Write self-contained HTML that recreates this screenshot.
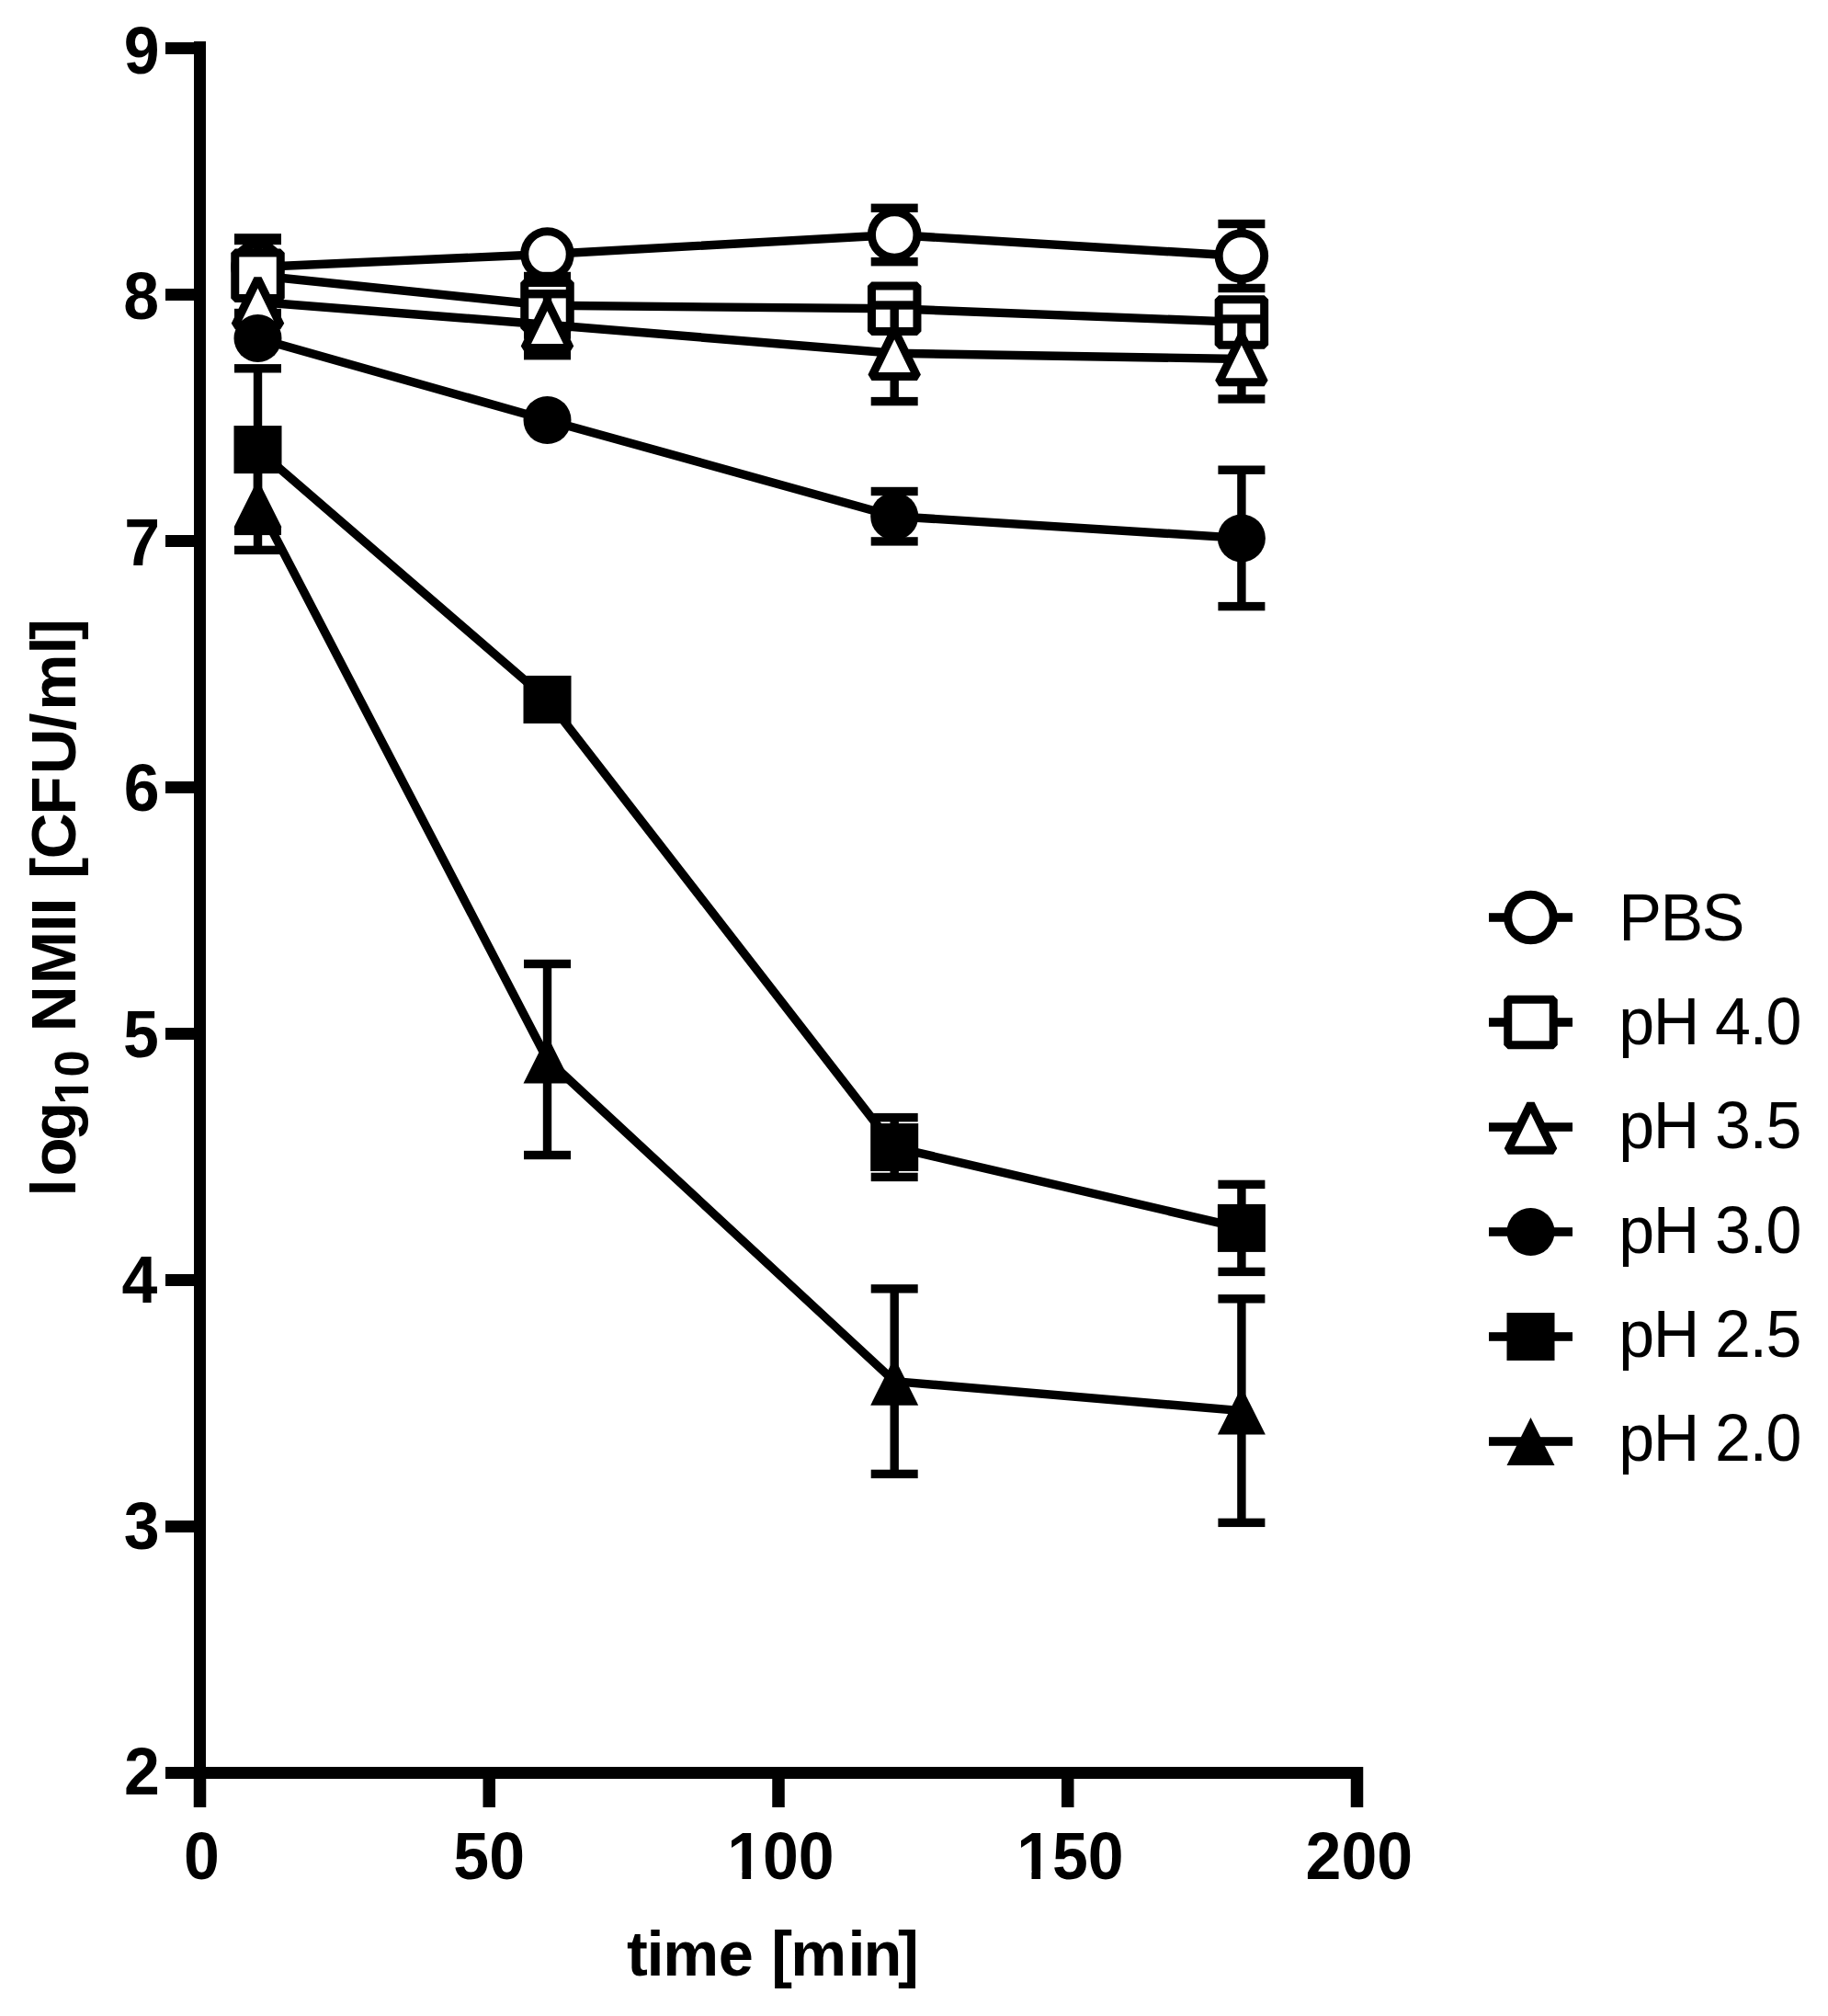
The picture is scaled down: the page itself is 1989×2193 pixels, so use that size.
<!DOCTYPE html><html><head><meta charset="utf-8"><title>log10 NMII [CFU/ml] vs time [min]</title><style>html,body{margin:0;padding:0;background:#fff;width:1989px;height:2193px;overflow:hidden}svg{display:block}</style></head><body>
<svg width="1989" height="2193" viewBox="0 0 1989 2193">
<rect width="1989" height="2193" fill="#fff"/>
<g fill="#000"><rect x="211" y="45" width="13" height="1890"/><rect x="211" y="1922" width="1272" height="13"/><rect x="180" y="46" width="44" height="13"/><rect x="180" y="314" width="44" height="13"/><rect x="180" y="582" width="44" height="13"/><rect x="180" y="850" width="44" height="13"/><rect x="180" y="1118" width="44" height="13"/><rect x="180" y="1386" width="44" height="13"/><rect x="180" y="1654" width="44" height="13"/><rect x="180" y="1922" width="44" height="13"/><rect x="210.75" y="1922" width="13.5" height="44"/><rect x="525.5" y="1922" width="13.5" height="44"/><rect x="840.25" y="1922" width="13.5" height="44"/><rect x="1155" y="1922" width="13.5" height="44"/><rect x="1469.75" y="1922" width="13.5" height="44"/></g>
<g font-family="Liberation Sans, Arial, sans-serif" font-weight="bold" font-size="72" fill="#000"><text transform="translate(134.75,79.5) scale(0.97,1)">9</text><text transform="translate(134.31,347) scale(0.97,1)">8</text><text transform="translate(135.23,614.5) scale(0.97,1)">7</text><text transform="translate(134.68,882) scale(0.97,1)">6</text><text transform="translate(134.1,1149.5) scale(0.97,1)">5</text><text transform="translate(132.53,1417) scale(0.97,1)">4</text><text transform="translate(134.68,1684.5) scale(0.97,1)">3</text><text transform="translate(134.95,1952) scale(0.97,1)">2</text><text transform="translate(200.03,2044.2) scale(0.97,1)">0</text><text transform="translate(493.37,2044.2) scale(0.97,1)">50</text><text transform="translate(791.21,2044.2) scale(0.97,1)">100</text><text transform="translate(1106.18,2044.2) scale(0.97,1)">150</text><text transform="translate(1420.56,2044.2) scale(0.97,1)">200</text></g>
<text x="682.09 703.47 721.36 781.78 819.88 839.14 860.36 922.52 939.44 977.1" y="2148.8" font-family="Liberation Sans, Arial, sans-serif" font-weight="bold" font-size="68.5">time [min]</text>
<g transform="translate(82,1300) rotate(-90)" font-family="Liberation Sans, Arial, sans-serif" font-weight="bold" font-size="69"><text y="0"><tspan x="-1.4 20.53 59.37">log</tspan><tspan x="98.56 128.46" y="13.5" font-size="52.6">10</tspan><tspan x="177.65 229.76 286.41 304.41 323.59" y="0">NMII </tspan><tspan x="344.2 365.66 413.63 457.72 505.26 527.19 588.45 604.08">[CFU/ml]</tspan></text><g fill="#fff"><rect x="99.87" y="6.63" width="10.96" height="8.37"/><rect x="118.05" y="6.63" width="10.3" height="8.37"/></g></g>
<g fill="#fff"><rect x="793.61" y="2035.35" width="13.9" height="10.35"/><rect x="817.09" y="2035.35" width="13.01" height="10.35"/><rect x="1108.58" y="2035.35" width="13.9" height="10.35"/><rect x="1132.07" y="2035.35" width="13.01" height="10.35"/></g>
<g fill="#000"><polyline points="280.5,290.5 595.5,276.5 973.2,255.5 1350.9,278.5" fill="none" stroke="#000" stroke-width="9.4" stroke-linejoin="round"/><rect x="275.8" y="261.5" width="9.4" height="58"/><rect x="255" y="256.8" width="51" height="9.4"/><rect x="255" y="314.8" width="51" height="9.4"/><rect x="968.5" y="226.3" width="9.4" height="58.4"/><rect x="947.7" y="221.6" width="51" height="9.4"/><rect x="947.7" y="280" width="51" height="9.4"/><rect x="1346.2" y="243.5" width="9.4" height="70"/><rect x="1325.4" y="238.8" width="51" height="9.4"/><rect x="1325.4" y="308.8" width="51" height="9.4"/><circle cx="280.5" cy="290.5" r="24.75" fill="#fff" stroke="#000" stroke-width="9"/><circle cx="595.5" cy="276.5" r="24.75" fill="#fff" stroke="#000" stroke-width="9"/><circle cx="973.2" cy="255.5" r="24.75" fill="#fff" stroke="#000" stroke-width="9"/><circle cx="1350.9" cy="278.5" r="24.75" fill="#fff" stroke="#000" stroke-width="9"/></g>
<g fill="#000"><polyline points="280.5,299.7 595.5,332.3 973.2,335.8 1350.9,350.4" fill="none" stroke="#000" stroke-width="9.4" stroke-linejoin="round"/><rect x="275.8" y="258.9" width="9.4" height="81.6"/><rect x="255" y="254.2" width="51" height="9.4"/><rect x="255" y="335.8" width="51" height="9.4"/><rect x="590.8" y="300.5" width="9.4" height="63.6"/><rect x="570" y="295.8" width="51" height="9.4"/><rect x="570" y="359.4" width="51" height="9.4"/><rect x="255.75" y="274.95" width="49.5" height="49.5" fill="#fff" stroke="#000" stroke-width="9" stroke-linejoin="bevel"/><rect x="570.75" y="307.55" width="49.5" height="49.5" fill="#fff" stroke="#000" stroke-width="9" stroke-linejoin="bevel"/><rect x="948.45" y="311.05" width="49.5" height="49.5" fill="#fff" stroke="#000" stroke-width="9" stroke-linejoin="bevel"/><rect x="1326.15" y="325.65" width="49.5" height="49.5" fill="#fff" stroke="#000" stroke-width="9" stroke-linejoin="bevel"/></g>
<g fill="#000"><polyline points="280.5,328.5 595.5,353.2 973.2,384.3 1350.9,390.5" fill="none" stroke="#000" stroke-width="9.4" stroke-linejoin="round"/><rect x="590.8" y="319.7" width="9.4" height="67"/><rect x="570" y="315" width="51" height="9.4"/><rect x="570" y="382" width="51" height="9.4"/><rect x="968.5" y="332" width="9.4" height="104.6"/><rect x="947.7" y="327.3" width="51" height="9.4"/><rect x="947.7" y="431.9" width="51" height="9.4"/><rect x="1346.2" y="347" width="9.4" height="87"/><rect x="1325.4" y="342.3" width="51" height="9.4"/><rect x="1325.4" y="429.3" width="51" height="9.4"/><polygon points="280.5,303.25 255.8,353.75 305.2,353.75" fill="#fff" stroke="#000" stroke-width="9" stroke-linejoin="bevel"/><polygon points="595.5,327.95 570.8,378.45 620.2,378.45" fill="#fff" stroke="#000" stroke-width="9" stroke-linejoin="bevel"/><polygon points="973.2,359.05 948.5,409.55 997.9,409.55" fill="#fff" stroke="#000" stroke-width="9" stroke-linejoin="bevel"/><polygon points="1350.9,365.25 1326.2,415.75 1375.6,415.75" fill="#fff" stroke="#000" stroke-width="9" stroke-linejoin="bevel"/></g>
<g fill="#000"><polyline points="280.5,367.9 595.5,457 973.2,561.7 1350.9,585.4" fill="none" stroke="#000" stroke-width="9.4" stroke-linejoin="round"/><rect x="968.5" y="534.5" width="9.4" height="54.4"/><rect x="947.7" y="529.8" width="51" height="9.4"/><rect x="947.7" y="584.2" width="51" height="9.4"/><rect x="1346.2" y="511.2" width="9.4" height="148.4"/><rect x="1325.4" y="506.5" width="51" height="9.4"/><rect x="1325.4" y="654.9" width="51" height="9.4"/><circle cx="280.5" cy="367.9" r="26"/><circle cx="595.5" cy="457" r="26"/><circle cx="973.2" cy="561.7" r="26"/><circle cx="1350.9" cy="585.4" r="26"/></g>
<g fill="#000"><polyline points="280.5,489.1 595.5,761 973.2,1248 1350.9,1335.9" fill="none" stroke="#000" stroke-width="9.4" stroke-linejoin="round"/><rect x="275.8" y="400.8" width="9.4" height="176.6"/><rect x="255" y="396.1" width="51" height="9.4"/><rect x="255" y="572.7" width="51" height="9.4"/><rect x="968.5" y="1215.6" width="9.4" height="64.8"/><rect x="947.7" y="1210.9" width="51" height="9.4"/><rect x="947.7" y="1275.7" width="51" height="9.4"/><rect x="1346.2" y="1288.4" width="9.4" height="95"/><rect x="1325.4" y="1283.7" width="51" height="9.4"/><rect x="1325.4" y="1378.7" width="51" height="9.4"/><rect x="254.5" y="463.1" width="52" height="52"/><rect x="569.5" y="735" width="52" height="52"/><rect x="947.2" y="1222" width="52" height="52"/><rect x="1324.9" y="1309.9" width="52" height="52"/></g>
<g fill="#000"><polyline points="280.5,547.4 595.5,1152.5 973.2,1502.65 1350.9,1534.6" fill="none" stroke="#000" stroke-width="9.4" stroke-linejoin="round"/><rect x="275.8" y="496.4" width="9.4" height="102"/><rect x="255" y="491.7" width="51" height="9.4"/><rect x="255" y="593.7" width="51" height="9.4"/><rect x="590.8" y="1048.5" width="9.4" height="208"/><rect x="570" y="1043.8" width="51" height="9.4"/><rect x="570" y="1251.8" width="51" height="9.4"/><rect x="968.5" y="1401.9" width="9.4" height="201.5"/><rect x="947.7" y="1397.2" width="51" height="9.4"/><rect x="947.7" y="1598.7" width="51" height="9.4"/><rect x="1346.2" y="1412.85" width="9.4" height="243.5"/><rect x="1325.4" y="1408.15" width="51" height="9.4"/><rect x="1325.4" y="1651.65" width="51" height="9.4"/><polygon points="280.5,521.4 254.5,573.4 306.5,573.4"/><polygon points="595.5,1126.5 569.5,1178.5 621.5,1178.5"/><polygon points="973.2,1476.65 947.2,1528.65 999.2,1528.65"/><polygon points="1350.9,1508.6 1324.9,1560.6 1376.9,1560.6"/></g>
<g font-family="Liberation Sans, Arial, sans-serif" font-size="72.2" fill="#000" letter-spacing="-1.5"><rect x="1620" y="993.2" width="91" height="9.6"/><circle cx="1665.5" cy="998" r="24.75" fill="#fff" stroke="#000" stroke-width="9"/><text transform="translate(1761.35,1022.8) scale(0.97,1)">PBS</text><rect x="1620" y="1107.2" width="91" height="9.6"/><rect x="1640.75" y="1087.25" width="49.5" height="49.5" fill="#fff" stroke="#000" stroke-width="9" stroke-linejoin="bevel"/><text transform="translate(1761.35,1136.1) scale(0.97,1)">pH 4.0</text><rect x="1620" y="1221.2" width="91" height="9.6"/><polygon points="1665.5,1200.75 1640.8,1251.25 1690.2,1251.25" fill="#fff" stroke="#000" stroke-width="9" stroke-linejoin="bevel"/><text transform="translate(1761.35,1249.4) scale(0.97,1)">pH 3.5</text><rect x="1620" y="1335.2" width="91" height="9.6"/><circle cx="1665.5" cy="1340" r="26"/><text transform="translate(1761.35,1362.7) scale(0.97,1)">pH 3.0</text><rect x="1620" y="1449.2" width="91" height="9.6"/><rect x="1639.5" y="1428" width="52" height="52"/><text transform="translate(1761.35,1476) scale(0.97,1)">pH 2.5</text><rect x="1620" y="1563.2" width="91" height="9.6"/><polygon points="1665.5,1542 1639.5,1594 1691.5,1594"/><text transform="translate(1761.35,1589.3) scale(0.97,1)">pH 2.0</text></g>
</svg></body></html>
